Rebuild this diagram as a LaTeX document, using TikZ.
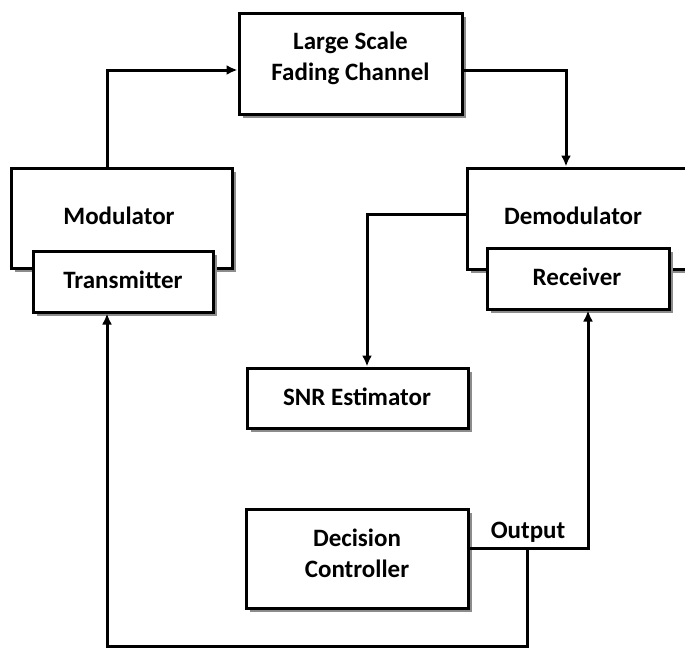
\documentclass[tikz,border=0pt]{standalone}
\usepackage{fontspec}
\setmainfont{Carlito}
\usetikzlibrary{arrows.meta,shadows}
\begin{document}
\begin{tikzpicture}[x=1pt,y=-1pt,
  blk/.style={draw,line width=3pt,fill=white,inner sep=0pt,
    drop shadow={shadow xshift=3.5pt,shadow yshift=-3.5pt,fill=black!45,opacity=1}},
  txt/.style={font=\bfseries\fontsize{25}{31}\selectfont,align=center,inner sep=0pt},
  wire/.style={line width=3pt},
  arr/.style={wire,-{Latex[length=11pt,width=10pt]}}]
\fill[white] (0,0) rectangle (685,648);
\useasboundingbox (0,0) rectangle (685,648);
\clip (0,0) rectangle (685,648);
% boxes
\node[blk,minimum width=223pt,minimum height=101pt] (fad) at (350.5,63.5) {};
\node[txt] (fadt) at (350.5,58) {Large Scale\\Fading Channel};
\node[blk,minimum width=221pt,minimum height=100pt] (mod) at (121.5,218) {};
\node[txt] (modt) at (119,216) {Modulator};
\node[blk,minimum width=180pt,minimum height=61pt] (tx) at (123,281.5) {};
\node[txt] (txt1) at (123,280) {Transmitter};
\node[blk,minimum width=233pt,minimum height=101pt] (dem) at (583.5,218.5) {};
\node[txt] (demt) at (573,216) {Demodulator};
\node[blk,minimum width=182pt,minimum height=61pt] (rec) at (578,278.5) {};
\node[txt] (rect) at (577,277) {Receiver};
\node[blk,minimum width=221pt,minimum height=60pt] (snr) at (357.5,398) {};
\node[txt] (snrt) at (357,397) {SNR Estimator};
\node[blk,minimum width=222pt,minimum height=99pt] (dec) at (357,558.5) {};
\node[txt] (dect) at (357,553) {Decision\\Controller};
\node[txt] (outl) at (528,532) {Output};
% routing points
\coordinate (m1) at (107,70);
\coordinate (f1) at (566,70);
\coordinate (d1) at (367,214);
\coordinate (o1) at (588,548);
\coordinate (o2) at (527,548);
\coordinate (b1) at (527,646);
\coordinate (b2) at (107,646);
% connectors
\draw[arr] (m1 |- mod.north) -- (m1) -- (m1 -| fad.west);
\draw[arr] (f1 -| fad.east) -- (f1) -- (f1 |- dem.north);
\draw[arr] (d1 -| dem.west) -- (d1) -- (d1 |- snr.north);
\draw[arr] (o1 -| dec.east) -- (o1) -- (o1 |- rec.south);
\draw[arr] (o2) -- (b1) -- (b2) -- (b2 |- tx.south);
\end{tikzpicture}
\end{document}
